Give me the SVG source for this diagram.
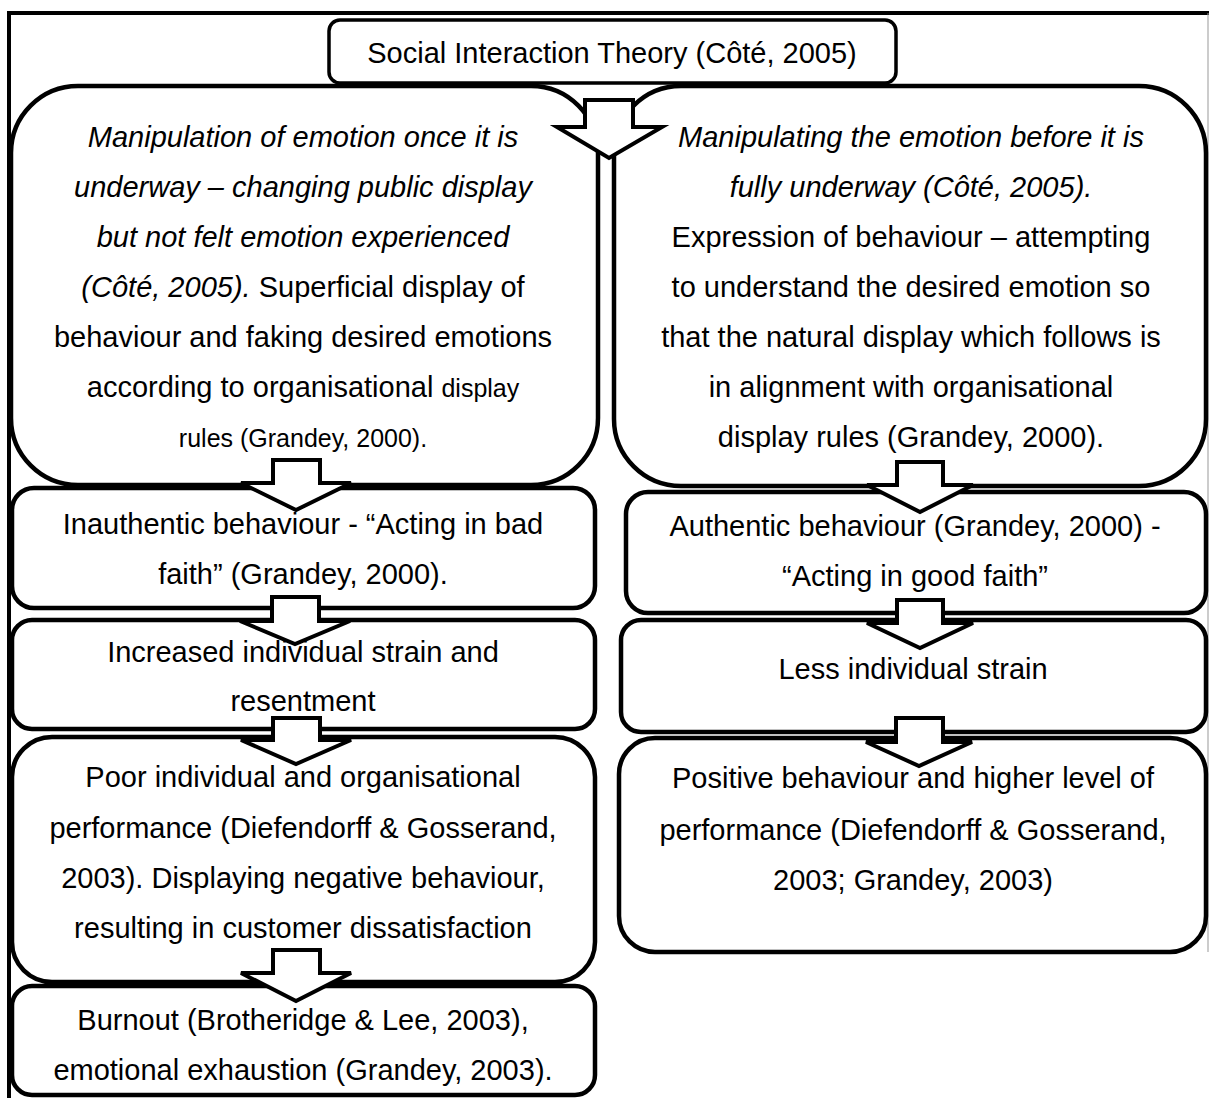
<svg xmlns="http://www.w3.org/2000/svg" width="1209" height="1098" viewBox="0 0 1209 1098">
<style>
.box{fill:#fff;stroke:#000;stroke-width:4.5}
.top{fill:#fff;stroke:#000;stroke-width:3.5}
.arr{fill:#fff;stroke:#000;stroke-width:4;stroke-linejoin:miter}
text{font-family:"Liberation Sans",Arial,sans-serif;font-size:29px;fill:#000;text-anchor:middle}
.it{font-style:italic}
.sm{font-size:25px}
</style>
<rect width="1209" height="1098" fill="#fff"/>
<g id="frame">
<path d="M9 1098 V13 H1209" fill="none" stroke="#000" stroke-width="4"/>
<line x1="1208" y1="13" x2="1208" y2="952" stroke="#999" stroke-width="1"/>
</g>
<g id="node-top">
<rect class="top" x="329" y="20" width="567" height="63" rx="11"/>
<text x="612" y="63">Social Interaction Theory (Côté, 2005)</text>
</g>
<g id="node-surface">
<rect class="box" x="11" y="86" width="587" height="399" rx="67"/>
<text x="303" y="147" class="it">Manipulation of emotion once it is</text>
<text x="303" y="197" class="it">underway – changing public display</text>
<text x="303" y="247" class="it">but not felt emotion experienced</text>
<text x="303" y="297"><tspan class="it">(Côté, 2005).</tspan> Superficial display of</text>
<text x="303" y="347">behaviour and faking desired emotions</text>
<text x="303" y="397">according to organisational <tspan class="sm">display</tspan></text>
<text x="303" y="447" class="sm">rules (Grandey, 2000).</text>
</g>
<g id="node-deep">
<rect class="box" x="614" y="86" width="592" height="400" rx="67"/>
<text x="911" y="147" class="it">Manipulating the emotion before it is</text>
<text x="911" y="197" class="it">fully underway (Côté, 2005).</text>
<text x="911" y="247">Expression of behaviour – attempting</text>
<text x="911" y="297">to understand the desired emotion so</text>
<text x="911" y="347">that the natural display which follows is</text>
<text x="911" y="397">in alignment with organisational</text>
<text x="911" y="447">display rules (Grandey, 2000).</text>
</g>
<g id="node-inauthentic">
<rect class="box" x="12" y="488" width="583" height="120" rx="22"/>
<text x="303" y="534">Inauthentic behaviour - “Acting in bad</text>
<text x="303" y="584">faith” (Grandey, 2000).</text>
</g>
<g id="node-increased">
<rect class="box" x="12" y="620" width="583" height="109" rx="20"/>
<text x="303" y="662">Increased individual strain and</text>
<text x="303" y="711">resentment</text>
</g>
<g id="node-poor">
<rect class="box" x="12" y="737" width="583" height="245" rx="40"/>
<text x="303" y="787">Poor individual and organisational</text>
<text x="303" y="838">performance (Diefendorff &amp; Gosserand,</text>
<text x="303" y="888">2003). Displaying negative behaviour,</text>
<text x="303" y="938">resulting in customer dissatisfaction</text>
</g>
<g id="node-burnout">
<rect class="box" x="12" y="986" width="583" height="109" rx="20"/>
<text x="303" y="1030">Burnout (Brotheridge &amp; Lee, 2003),</text>
<text x="303" y="1080">emotional exhaustion (Grandey, 2003).</text>
</g>
<g id="node-authentic">
<rect class="box" x="626" y="492" width="580" height="121" rx="22"/>
<text x="915" y="536">Authentic behaviour (Grandey, 2000) -</text>
<text x="915" y="586">“Acting in good faith”</text>
</g>
<g id="node-less">
<rect class="box" x="621" y="620" width="585" height="112" rx="20"/>
<text x="913" y="679">Less individual strain</text>
</g>
<g id="node-positive">
<rect class="box" x="619" y="738" width="587" height="214" rx="36"/>
<text x="913" y="788">Positive behaviour and higher level of</text>
<text x="913" y="840">performance (Diefendorff &amp; Gosserand,</text>
<text x="913" y="890">2003; Grandey, 2003)</text>
</g>
<g id="connectors">
<polygon class="arr" points="585,100 633,100 633,127 662,127 609,158 557,127 585,127"/>
<polygon class="arr" points="273,460 320,460 320,483 351,483 296,510 241,483 273,483"/>
<polygon class="arr" points="272,597 319,597 319,621 350,621 295,644 240,621 272,621"/>
<polygon class="arr" points="273,718 320,718 320,740 351,740 296,764 241,740 273,740"/>
<polygon class="arr" points="273,950 320,950 320,973 351,973 296,1001 241,973 273,973"/>
<polygon class="arr" points="897,462 943,462 943,485 973,485 920,512 867,485 897,485"/>
<polygon class="arr" points="897,600 943,600 943,623 973,623 920,648 867,623 897,623"/>
<polygon class="arr" points="896,718 943,718 943,742 972,742 919,766 866,742 896,742"/>
</g>
</svg>
